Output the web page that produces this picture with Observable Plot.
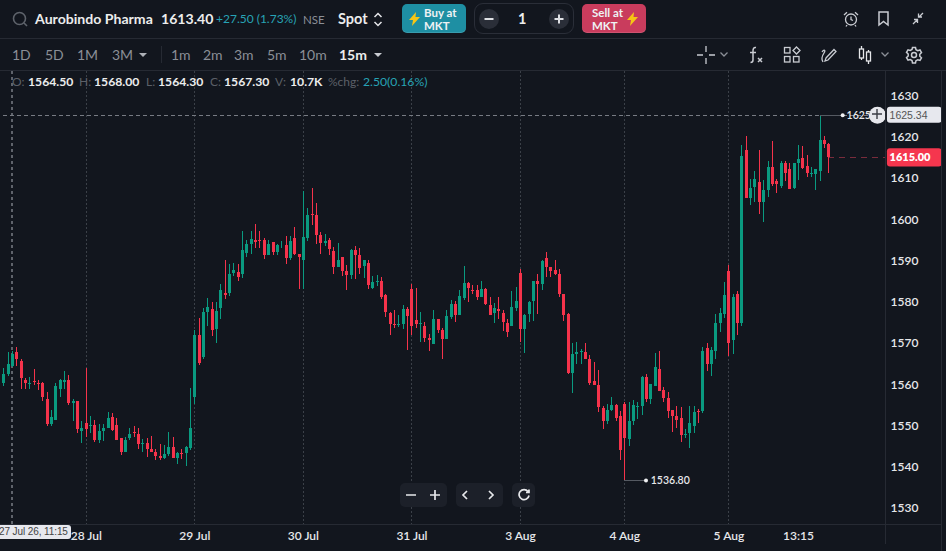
<!DOCTYPE html>
<html><head><meta charset="utf-8">
<script src="https://cdn.jsdelivr.net/npm/d3@7"></script>
<script src="https://cdn.jsdelivr.net/npm/@observablehq/plot@0.6"></script>
<style>
html,body{margin:0;padding:0;background:#12161e;overflow:hidden}
#page{position:relative;width:946px;height:551px;font-family:Lato,sans-serif;color:#e6e7ea;overflow:hidden}
#top{height:71px;position:relative}
#chart{height:480px;position:relative}
#chart svg{display:block;background:transparent!important}
.t{position:absolute;white-space:nowrap;line-height:1}
.g{color:#8b8f97}.b{color:#eceded}
.hl{position:absolute;background:#262a33}
.btn{position:absolute;top:4px;width:64px;height:29px;border-radius:5px;box-shadow:inset 0 -1px 0 rgba(255,255,255,.12)}
.btn span{position:absolute;color:#eef2f4;font-size:11.5px;font-weight:700;line-height:1}
.ic{position:absolute;overflow:visible;fill:none;stroke:#c9ccd2;stroke-width:1.3}
.cg{position:absolute;top:483px;height:24px;background:#1c2029;border-radius:5px}
</style></head>
<body><div id="page">
<div id="top">
 <svg class="ic" style="left:12px;top:11px;stroke:#5e636b;stroke-width:1.6" width="16" height="16"><circle cx="7.5" cy="7.5" r="6"/><path d="M12 12l3 3"/></svg>
 <div class="t b" style="left:35px;top:12px;font-size:14.1px;font-weight:700">Aurobindo Pharma</div>
 <div class="t b" style="left:161px;top:12px;font-size:14.1px;font-weight:700">1613.40</div>
 <div class="t" style="left:216px;top:13px;font-size:12px;color:#27a3b5">+27.50 (1.73%)</div>
 <div class="t g" style="left:303px;top:14px;font-size:11.5px">NSE</div>
 <div class="t b" style="left:338px;top:12px;font-size:14.5px;font-weight:700">Spot</div>
 <svg class="ic" style="left:373px;top:12px;stroke:#e6e7ea;stroke-width:1.5" width="10" height="15"><path d="M1.5 5L5 1.5L8.5 5M1.5 10L5 13.5L8.5 10"/></svg>
 <div class="btn" style="left:402px;background:#1e8fa3"><svg class="ic" style="left:7px;top:8px;fill:#f6c615;stroke:none" width="11" height="14"><path d="M7 0L0 8h4L3 14L11 5H6.500z"/></svg><span style="left:22px;top:3px">Buy at</span><span style="left:22px;top:16px">MKT</span></div>
 <div style="position:absolute;left:474px;top:3px;width:98px;height:29px;border:1px solid #2a2e38;border-radius:9px"></div>
 <svg class="ic" style="left:479px;top:9px;stroke:#dfe1e5;stroke-width:2" width="90" height="20"><circle cx="10" cy="10" r="10" fill="#2a2e38" stroke="none"/><path d="M5.500 10h9"/><circle cx="80" cy="10" r="10" fill="#2a2e38" stroke="none"/><path d="M75.500 10h9M80 5.500v9"/></svg>
 <div class="t b" style="left:518px;top:12px;font-size:14.5px;font-weight:700">1</div>
 <div class="btn" style="left:582px;background:#c93c5d"><span style="left:10px;top:3px">Sell at</span><span style="left:10px;top:16px">MKT</span><svg class="ic" style="left:45px;top:8px;fill:#f6c615;stroke:none" width="11" height="14"><path d="M7 0L0 8h4L3 14L11 5H6.500z"/></svg></div>
 <svg class="ic" style="left:843px;top:11px" width="16" height="16"><circle cx="8" cy="8.500" r="5.500"/><path d="M8 5.500v3l2 1M1 4L4 1.200M15 4L12 1.200M4 14l-1 1.500M12 14l1 1.500"/></svg>
 <svg class="ic" style="left:878px;top:11px;stroke-width:1.5" width="11" height="15"><path d="M1 1h9v13L5.500 10.500L1 14z"/></svg>
 <svg class="ic" style="left:912px;top:12px" width="12" height="13"><path d="M1 12L5 8M2 7.500h3.500v3.500M11 1L7 5M6.500 1.500V5H10"/></svg>
 <div class="hl" style="left:0;top:38px;width:946px;height:1px"></div>
 <div class="t g" style="left:12px;top:48px;font-size:14px">1D</div>
 <div class="t g" style="left:45px;top:48px;font-size:14px">5D</div>
 <div class="t g" style="left:77px;top:48px;font-size:14px">1M</div>
 <div class="t g" style="left:112px;top:48px;font-size:14px">3M</div>
 <svg class="ic" style="left:139px;top:53px;fill:#aeb1b7;stroke:none" width="8" height="5"><path d="M0 0h8L4 4z"/></svg>
 <div class="hl" style="left:161px;top:46px;width:1px;height:17px"></div>
 <div class="t g" style="left:171px;top:48px;font-size:14px">1m</div>
 <div class="t g" style="left:203px;top:48px;font-size:14px">2m</div>
 <div class="t g" style="left:234px;top:48px;font-size:14px">3m</div>
 <div class="t g" style="left:267px;top:48px;font-size:14px">5m</div>
 <div class="t g" style="left:299px;top:48px;font-size:14px">10m</div>
 <div class="t b" style="left:339px;top:48px;font-size:14px;font-weight:700">15m</div>
 <svg class="ic" style="left:374px;top:53px;fill:#c9ccd2;stroke:none" width="8" height="5"><path d="M0 0h8L4 4z"/></svg>
 <svg class="ic" style="left:697px;top:46px" width="18" height="18"><path d="M0 9h6M12 9h6M9 0v6M9 12v6"/></svg>
 <svg class="ic" style="left:720px;top:52px;stroke:#8b8f97" width="8" height="5"><path d="M.5.500L4 4L7.500.500"/></svg>
 <svg class="ic" style="left:748px;top:46px;stroke-width:1.5" width="16" height="18"><path d="M8 1.500C5.500 1 5 3 5 5v9c0 2-1 2.500-2.500 2.500M2 6.500h6M10 12l4 4M14 12l-4 4"/></svg>
 <svg class="ic" style="left:784px;top:47px" width="16" height="16"><rect x=".5" y=".5" width="5.500" height="5.500"/><rect x=".5" y="9.500" width="5.500" height="5.500"/><rect x="9.500" y="9.500" width="5.500" height="5.500"/><path d="M12.500 0L16 3.500L12.500 7L9 3.500z"/></svg>
 <svg class="ic" style="left:821px;top:47px" width="16" height="16"><path d="M5 11L13 2.500L15 4.500L7 13L4 14zM1 5c2-3 4-2 2 1S0 12 2 15"/></svg>
 <svg class="ic" style="left:858px;top:46px;stroke:#e6e7ea" width="14" height="18"><path d="M3.500 0v3M3.500 12v2M10.500 4v2M10.500 15v3"/><rect x="1.500" y="3" width="4" height="9"/><rect x="8.500" y="6" width="4" height="9"/></svg>
 <svg class="ic" style="left:881px;top:52px;stroke:#8b8f97" width="8" height="5"><path d="M.5.500L4 4L7.500.500"/></svg>
 <svg class="ic" style="left:906px;top:47px;stroke-width:1.500" width="16" height="16"><path d="M6.500.800h3l.5 2.200l1.800 1l2.200-.7l1.500 2.600l-1.700 1.600v2l1.700 1.600l-1.500 2.600l-2.200-.7l-1.800 1l-.5 2.200h-3L6 13.800l-1.800-1L2 13.500L.500 10.900L2.200 9.300v-2L.500 5.700L2 3.100l2.200.7L6 2.800z" transform="translate(0,-.3)"/><circle cx="8" cy="8" r="2.500"/></svg>
 <div class="hl" style="left:0;top:70px;width:946px;height:1px"></div>
</div>
<div id="chart"></div>
<div class="t" style="left:12px;top:76px;font-size:12px;color:#5c6068">O:</div>
<div class="t b" style="left:28px;top:76px;font-size:12.2px;font-weight:700">1564.50</div>
<div class="t" style="left:79px;top:76px;font-size:12px;color:#5c6068">H:</div>
<div class="t b" style="left:94px;top:76px;font-size:12.2px;font-weight:700">1568.00</div>
<div class="t" style="left:146px;top:76px;font-size:12px;color:#5c6068">L:</div>
<div class="t b" style="left:158px;top:76px;font-size:12.2px;font-weight:700">1564.30</div>
<div class="t" style="left:210px;top:76px;font-size:12px;color:#5c6068">C:</div>
<div class="t b" style="left:224px;top:76px;font-size:12.2px;font-weight:700">1567.30</div>
<div class="t" style="left:275px;top:76px;font-size:12px;color:#5c6068">V:</div>
<div class="t b" style="left:290px;top:76px;font-size:12.2px;font-weight:700">10.7K</div>
<div class="t" style="left:328px;top:76px;font-size:12px;color:#5c6068">%chg:</div>
<div class="t" style="left:363px;top:76px;font-size:12.2px;color:#27a3b5">2.50(0.16%)</div>
<div class="hl" style="left:0;top:524px;width:941px;height:1px"></div>
<div class="hl" style="left:885px;top:71px;width:1px;height:473px"></div>
<div class="hl" style="left:941px;top:71px;width:1px;height:480px"></div>
<div class="t" style="left:0;top:525px;width:71px;height:14px;background:#e7e8ee;border-radius:0 3px 3px 0;color:#444;font:10px/14px 'Liberation Sans',sans-serif;letter-spacing:-.1px;text-indent:-1px">27 Jul 26, 11:15</div>
<svg class="ic" style="left:872px;top:109px;stroke:#3a3d44;stroke-width:1.4" width="10" height="10"><path d="M0 5h10M5 0v10"/></svg>
<div class="cg" style="left:400px;width:47px"></div>
<div class="cg" style="left:456px;width:47px"></div>
<div class="cg" style="left:512px;width:23px"></div>
<svg class="ic" style="left:400px;top:483px;stroke:#e6e7ea;stroke-width:1.700" width="135" height="24"><path d="M6 12h10M30 12h10M35 7v10M67 8l-4 4l4 4M89 8l4 4l-4 4M128 8.500a5 5 0 1 0 1 4M129 6.500v3h-3"/></svg>
</div>
<script>
const opens = [
1560.2,1562.5,1564.5,1567.8,1565.6,1561.0,1560.1,1560.8,1560.2,1560.3,
1556.4,1550.4,1551.3,1558.9,1560.5,1561.0,1555.5,1555.9,1548.7,1550.6,
1549.9,1550.1,1546.5,1548.7,1549.4,1552.1,1550.1,1547.0,1543.6,1547.0,
1548.4,1547.9,1545.5,1545.8,1544.3,1543.6,1542.6,1542.1,1543.1,1544.8,
1542.1,1543.3,1543.3,1544.5,1556.9,1571.9,1566.6,1577.5,1578.3,1573.4,
1578.5,1582.1,1582.1,1587.0,1587.2,1586.7,1591.8,1594.0,1595.0,1594.9,
1595.0,1591.3,1594.5,1592.1,1593.4,1593.8,1590.6,1595.5,1591.6,1590.1,
1595.5,1601.3,1601.0,1596.2,1594.25,1595.0,1592.3,1588.4,1590.9,1587.5,
1586.5,1592.55,1591.3,1588.7,1589.4,1583.3,1584.8,1585.0,1581.6,1577.3,
1574.6,1574.4,1574.6,1578.2,1583.1,1575.6,1574.6,1574.1,1571.2,1569.8,
1575.8,1573.15,1571.0,1576.3,1579.5,1576.8,1580.9,1584.55,1582.85,1582.85,
1581.15,1583.1,1579.2,1577.3,1578.2,1577.3,1574.85,1574.1,1578.5,1587.0,
1573.4,1577.0,1580.2,1585.0,1584.3,1590.6,1588.4,1587.7,1586.7,1581.9,
1577.0,1562.7,1567.3,1567.8,1567.8,1566.1,1560.8,1559.8,1554.2,1551.1,
1553.8,1555.0,1552.3,1555.2,1546.7,1551.1,1554.5,1554.7,1561.8,1556.4,
1559.6,1563.7,1558.6,1556.7,1553.8,1552.3,1551.8,1547.7,1548.2,1549.9,
1553.5,1553.5,1568.8,1564.9,1568.1,1574.85,1577.0,1587.5,1570.7,1581.9,
1574.85,1616.8,1605.15,1607.8,1609.0,1604.2,1607.1,1612.7,1609.3,1608.1,
1613.6,1612.2,1607.6,1613.6,1614.85,1612.9,1611.05,1611.0,1611.7,1619.2,1618.2];
const closes = [
1562.5,1564.9,1567.3,1566.1,1561.5,1560.3,1560.3,1560.5,1560.1,1556.9,
1550.4,1552.1,1559.6,1561.0,1561.0,1555.5,1555.9,1549.2,1549.4,1549.2,
1550.1,1546.5,1548.7,1549.4,1551.8,1548.9,1546.5,1543.6,1546.5,1547.9,
1548.2,1545.5,1545.8,1544.3,1543.6,1542.6,1542.1,1543.1,1544.8,1542.1,
1543.3,1543.1,1544.8,1549.4,1571.9,1565.1,1577.5,1578.7,1573.2,1577.8,
1582.9,1581.6,1586.7,1587.7,1586.0,1592.55,1594.0,1595.2,1594.5,1594.7,
1591.3,1594.0,1592.1,1593.8,1593.6,1590.6,1594.7,1591.6,1590.9,1595.7,
1601.0,1601.0,1596.2,1594.25,1594.7,1592.8,1588.4,1590.1,1587.5,1586.5,
1592.55,1591.3,1588.2,1590.1,1584.1,1584.8,1585.0,1581.2,1577.5,1574.6,
1574.4,1574.6,1578.2,1576.55,1574.1,1574.6,1574.85,1571.2,1570.7,1575.8,
1573.15,1571.0,1576.55,1579.5,1576.8,1581.4,1584.55,1583.3,1582.6,1581.15,
1583.1,1579.5,1576.8,1578.5,1577.8,1575.1,1572.7,1578.7,1580.2,1573.4,
1576.8,1579.9,1585.0,1584.3,1589.9,1588.4,1587.5,1586.7,1581.9,1576.8,
1562.7,1567.3,1567.8,1568.1,1566.1,1560.3,1559.8,1554.5,1551.1,1553.8,
1555.0,1551.8,1544.1,1547.0,1551.1,1555.0,1554.7,1561.8,1556.4,1560.1,
1564.2,1558.4,1556.7,1553.5,1552.3,1551.3,1547.7,1547.9,1550.6,1553.3,
1553.3,1568.1,1564.9,1568.3,1574.85,1577.3,1581.6,1570.0,1581.15,1574.85,
1615.3,1605.15,1607.6,1609.8,1604.2,1607.1,1612.7,1608.55,1608.55,1613.6,
1611.2,1607.3,1613.6,1614.6,1612.4,1611.2,1611.2,1612.2,1619.2,1618.2,1615.1];
const highs = [
1564.0,1567.8,1568.0,1569.0,1566.1,1561.5,1561.8,1563.7,1561.0,1560.5,
1558.1,1553.8,1560.3,1561.3,1563.2,1562.2,1556.4,1555.9,1551.1,1564.0,
1552.3,1551.3,1550.4,1550.4,1553.3,1553.0,1551.8,1547.0,1547.2,1549.4,
1549.9,1549.4,1546.7,1547.0,1547.5,1544.3,1545.5,1545.3,1548.4,1547.2,
1543.6,1544.3,1545.0,1559.1,1573.2,1576.1,1578.5,1580.9,1580.0,1580.0,
1584.3,1590.1,1589.2,1589.4,1589.2,1597.2,1595.0,1597.2,1598.9,1597.2,
1595.5,1595.0,1594.5,1594.0,1594.7,1596.0,1596.0,1598.1,1591.6,1606.9,
1602.7,1607.6,1603.9,1596.9,1596.4,1595.5,1593.3,1594.25,1590.9,1588.9,
1592.8,1593.5,1593.0,1590.1,1590.1,1586.25,1586.5,1586.0,1581.9,1577.5,
1578.0,1576.8,1579.2,1578.7,1584.3,1583.3,1577.5,1575.1,1572.2,1578.0,
1575.8,1573.6,1578.0,1580.4,1580.2,1582.85,1588.7,1584.8,1584.1,1584.1,
1585.0,1583.3,1581.15,1579.7,1581.15,1578.0,1575.8,1582.6,1583.6,1587.9,
1577.0,1580.2,1585.0,1586.7,1590.1,1592.1,1588.4,1590.1,1587.9,1581.9,
1577.3,1570.0,1570.2,1568.5,1570.0,1567.1,1565.4,1563.45,1554.7,1555.2,
1556.9,1555.2,1553.5,1555.7,1555.7,1556.2,1555.7,1562.0,1562.5,1560.1,
1567.6,1568.1,1559.3,1558.1,1553.8,1554.7,1554.5,1549.2,1554.7,1554.7,
1554.0,1569.0,1570.0,1569.0,1577.0,1578.5,1584.8,1588.9,1581.9,1582.6,
1618.0,1620.2,1609.8,1611.7,1616.8,1609.5,1614.1,1619.0,1609.8,1614.1,
1614.1,1613.6,1613.6,1618.0,1617.8,1615.6,1612.7,1612.2,1625.34,1620.2,1618.5];
const lows = [
1559.6,1562.0,1564.3,1564.4,1558.9,1558.9,1558.9,1559.8,1558.6,1555.9,
1549.9,1549.9,1551.3,1556.9,1558.9,1555.0,1551.1,1548.2,1545.8,1547.2,
1548.2,1546.0,1545.8,1546.2,1549.4,1548.7,1546.5,1542.85,1543.6,1546.5,
1547.2,1544.3,1543.6,1542.4,1543.6,1541.6,1541.6,1541.9,1542.6,1542.1,
1540.7,1541.9,1540.2,1544.1,1555.2,1564.6,1566.1,1574.1,1571.7,1570.0,
1575.8,1580.7,1581.4,1586.25,1585.0,1585.8,1590.9,1591.6,1593.0,1593.0,
1590.4,1591.3,1591.3,1591.3,1593.0,1589.2,1590.1,1591.3,1583.1,1583.1,
1594.7,1598.6,1594.0,1591.6,1593.5,1591.3,1586.7,1588.4,1586.25,1582.9,
1585.5,1585.5,1586.7,1585.8,1583.1,1583.1,1583.8,1580.7,1576.3,1571.9,
1573.6,1573.9,1573.4,1568.3,1571.9,1573.6,1570.25,1570.25,1568.1,1569.8,
1572.4,1566.1,1571.0,1575.8,1575.1,1576.8,1580.4,1579.9,1581.9,1580.4,
1581.15,1579.2,1576.8,1574.85,1575.8,1572.9,1571.5,1574.1,1577.8,1570.25,
1567.6,1575.1,1575.3,1577.0,1582.85,1586.0,1586.0,1586.5,1581.15,1575.3,
1562.5,1557.9,1564.9,1564.9,1566.1,1559.8,1559.8,1553.3,1549.2,1550.4,
1553.5,1551.1,1541.6,1536.8,1545.0,1550.1,1551.6,1552.6,1555.7,1555.2,
1559.6,1558.4,1555.7,1551.8,1548.4,1549.4,1546.0,1547.0,1544.5,1548.2,
1550.6,1553.0,1563.2,1562.0,1566.1,1572.7,1576.1,1566.8,1567.3,1571.9,
1574.1,1605.15,1603.5,1604.2,1601.3,1599.3,1605.4,1608.1,1606.4,1607.6,
1609.3,1607.3,1607.3,1609.5,1612.2,1610.2,1610.2,1607.1,1609.3,1617.3,1611.2];
const dayTicks = [19,44,69,94,119,143,167];
const timeTicks = [...dayTicks,183];
const timeLabels = ["28 Jul","29 Jul","30 Jul","31 Jul","3 Aug","4 Aug","5 Aug","13:15"];
const priceTicks = [1530,1540,1550,1560,1570,1580,1590,1600,1610,1620,1630];
const crossIndex = 2, crossPrice = 1625.34, lastPrice = 1615.00, dayLow = 1536.80;
const GREEN = "#0a9a80", RED = "#f5334b";
const candles = opens.map((o,i)=>({i,o,c:closes[i],h:highs[i],l:lows[i],col:closes[i]>=o?GREEN:RED}));
const crisp = {shapeRendering:"crispEdges"};
const chart = Plot.plot({
  width:946, height:480,
  marginLeft:0, marginRight:61, marginTop:0, marginBottom:27,
  style:{background:"transparent",fontFamily:"Lato,sans-serif",overflow:"visible"},
  x:{type:"linear",domain:[0,190],range:[3.3,828.3],axis:null},
  y:{type:"linear",domain:[1630,1530],range:[24.5,437],axis:null},
  marks:[
    Plot.ruleX(dayTicks,{stroke:"#3b4048",strokeDasharray:"2,2",...crisp}),
    Plot.ruleX([crossIndex],{stroke:"#5f636b",strokeWidth:2,strokeDasharray:"3,3",...crisp}),
    Plot.ruleY([crossPrice],{stroke:"#777b83",strokeDasharray:"4,3",x1:0,x2:200,...crisp}),
    Plot.ruleY([lastPrice],{stroke:"#7a2c3c",strokeDasharray:"6,5",x1:190,x2:203,...crisp}),
    Plot.ruleX(candles,{x:"i",y1:"l",y2:"h",stroke:"col",strokeWidth:1,...crisp}),
    Plot.ruleX(candles,{x:"i",y1:"o",y2:"c",stroke:"col",strokeWidth:3,...crisp}),
    Plot.ruleY([dayLow],{x1:143,x2:147.9,stroke:"#555a62",...crisp}),
    Plot.ruleY([crossPrice],{x1:188,x2:193.2,stroke:"#555a62",...crisp}),
    Plot.dot([[147.9,dayLow],[193.2,crossPrice]],{r:2,fill:"#f0f1f3"}),
    Plot.text([[149,dayLow]],{text:()=>"1536.80",textAnchor:"start",fill:"#e6e7ea",fontSize:10.5,fontWeight:600}),
    Plot.text([[194.1,crossPrice]],{text:()=>"1625.34",textAnchor:"start",fill:"#e6e7ea",fontSize:10.5,fontWeight:600}),
    Plot.dot([[201.2,crossPrice]],{r:8.5,fill:"#e6e7ec"}),
    Plot.rect([{p:crossPrice}],{x1:()=>203.5,x2:()=>216.1,y1:d=>d.p+1.95,y2:d=>d.p-1.95,fill:"#e7e8ee",rx:3}),
    Plot.text([[204.0,crossPrice]],{text:()=>"1625.34",textAnchor:"start",fill:"#555",fontSize:10.5,fontFamily:"'Liberation Sans',sans-serif"}),
    Plot.rect([{p:lastPrice}],{x1:()=>203.5,x2:()=>216.1,y1:d=>d.p+2.2,y2:d=>d.p-2.2,fill:"#f5364e",rx:3}),
    Plot.text([[204.0,lastPrice]],{text:()=>"1615.00",textAnchor:"start",fill:"#fff",fontSize:11,fontWeight:800}),
    Plot.axisX({ticks:timeTicks,tickFormat:d=>timeLabels[timeTicks.indexOf(d)],anchor:"bottom",tickSize:0,tickPadding:7,fontSize:12,fontWeight:600,color:"#e6e7ea",label:null}),
    Plot.axisY({ticks:priceTicks,tickFormat:d=>String(d),anchor:"right",tickSize:0,tickPadding:5,textAnchor:"start",fontSize:12,fontWeight:600,color:"#e6e7ea",label:null})
  ]
});
document.getElementById("chart").appendChild(chart);
</script>
</body></html>
